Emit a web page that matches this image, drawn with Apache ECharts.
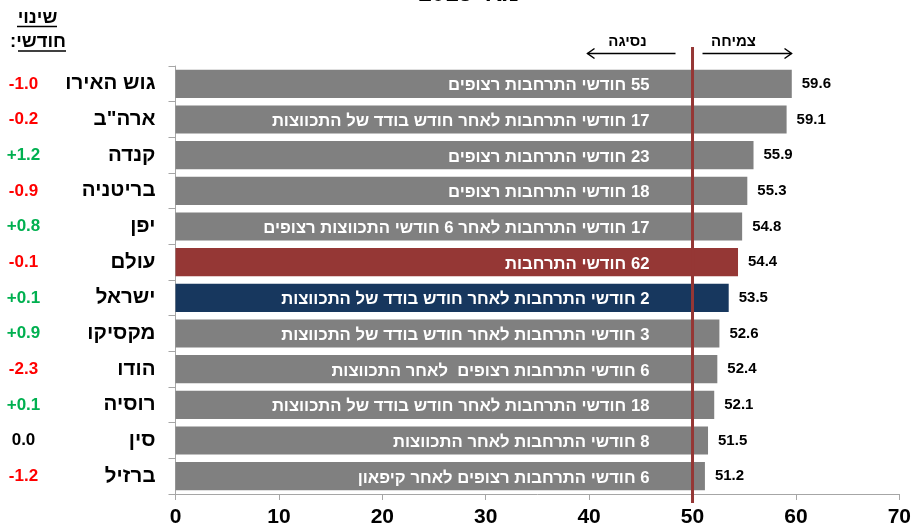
<!DOCTYPE html>
<html>
<head>
<meta charset="utf-8">
<script src="https://cdn.jsdelivr.net/npm/echarts@6/dist/echarts.min.js"></script>
<style>
html,body{margin:0;padding:0;background:#fff;}
#chart{width:914px;height:532px;}
</style>
</head>
<body>
<div id="chart"></div>
<script>
// ---- data ----
var categories = ['גוש האירו', 'ארה"ב', 'קנדה', 'בריטניה', 'יפן', 'עולם', 'ישראל', 'מקסיקו', 'הודו', 'רוסיה', 'סין', 'ברזיל'];
var values = [59.6, 59.1, 55.9, 55.3, 54.8, 54.4, 53.5, 52.6, 52.4, 52.1, 51.5, 51.2];
var monthlyChange = ['-1.0', '-0.2', '+1.2', '-0.9', '+0.8', '-0.1', '+0.1', '+0.9', '-2.3', '+0.1', '0.0', '-1.2'];
var barNotes = [
  '55 חודשי התרחבות רצופים',
  '17 חודשי התרחבות לאחר חודש בודד של התכווצות',
  '23 חודשי התרחבות רצופים',
  '18 חודשי התרחבות רצופים',
  '17 חודשי התרחבות לאחר 6 חודשי התכווצות רצופים',
  '62 חודשי התרחבות',
  '2 חודשי התרחבות לאחר חודש בודד של התכווצות',
  '3 חודשי התרחבות לאחר חודש בודד של התכווצות',
  '6 חודשי התרחבות רצופים  לאחר התכווצות',
  '18 חודשי התרחבות לאחר חודש בודד של התכווצות',
  '8 חודשי התרחבות לאחר התכווצות',
  '6 חודשי התרחבות רצופים לאחר קיפאון'
];
var xTicks = [0, 10, 20, 30, 40, 50, 60, 70];
var threshold = 50;
var headerLines = ['שינוי', 'חודשי:'];
var arrowTexts = ['נסיגה', 'צמיחה'];
var titleText = 'מאי 2018';

// ---- chart ----
var RLM = '\u200F';
var FONT = 'Arial, "Liberation Sans", sans-serif';
var chart = echarts.init(document.getElementById('chart'), null, {renderer: 'canvas'});

function barColor(i) {
  if (categories[i] === 'עולם') return '#953735';
  if (categories[i] === 'ישראל') return '#17375E';
  return '#808080';
}
function changeColor(v) {
  if (v.charAt(0) === '+') return '#00B050';
  if (v.charAt(0) === '-') return '#FF0000';
  return '#000000';
}

var option = {
  animation: false,
  grid: {left: 175.5, right: 12.5, top: 66, bottom: 38, containLabel: false},
  xAxis: {
    type: 'value', min: xTicks[0], max: xTicks[xTicks.length - 1], interval: 10,
    splitLine: {show: false},
    axisLine: {show: true, lineStyle: {color: '#A6A6A6', width: 1}},
    axisTick: {show: true, length: 6, lineStyle: {color: '#A6A6A6'}},
    axisLabel: {margin: 13, color: '#000', fontSize: 21, fontWeight: 'bold', fontFamily: FONT}
  },
  yAxis: [{
    type: 'category', data: categories, inverse: true,
    axisLine: {show: true, lineStyle: {color: '#A6A6A6'}},
    axisTick: {show: true, length: 7, lineStyle: {color: '#A6A6A6'}},
    axisLabel: {margin: 20, color: '#000', fontSize: 20.5, fontWeight: 'bold', fontFamily: FONT}
  }, {
    type: 'category', data: monthlyChange, inverse: true, position: 'left',
    axisLine: {show: false}, axisTick: {show: false},
    axisLabel: {margin: 152, align: 'center', fontSize: 17, fontWeight: 'bold', fontFamily: FONT,
      color: function (v) { return changeColor(v); }}
  }],
  series: [{
    type: 'bar', data: values, barWidth: '79%',
    itemStyle: {color: function (p) { return barColor(p.dataIndex); }},
    label: {show: true, position: 'right', distance: 10, color: '#000', fontSize: 15, fontWeight: 'bold', fontFamily: FONT,
      formatter: function (p) { return p.value.toFixed(1); }}
  }, {
    type: 'bar', data: values, barWidth: '79%', barGap: '-100%', silent: true,
    itemStyle: {color: 'rgba(0,0,0,0)'},
    label: {show: true, position: [474, '50%'], offset: [0, 2], align: 'right', verticalAlign: 'middle',
      color: '#fff', fontSize: 16.7, fontWeight: 'bold', fontFamily: FONT,
      formatter: function (p) { return RLM + barNotes[p.dataIndex]; }}
  }]
};
chart.setOption(option);

// annotations positioned through the axis scale
var x50 = chart.convertToPixel({xAxisIndex: 0}, threshold);
var red = '#953735';
var g = [];
g.push({type: 'line', shape: {x1: x50, y1: 47, x2: x50, y2: 503}, style: {stroke: red, lineWidth: 3}, z: 100});
// arrows
var ay = 53.5;
g.push({type: 'line', shape: {x1: x50 - 17, y1: ay, x2: x50 - 105, y2: ay}, style: {stroke: '#000', lineWidth: 1.5}});
g.push({type: 'polyline', shape: {points: [[x50 - 98, ay - 5], [x50 - 105, ay], [x50 - 98, ay + 5]]}, style: {stroke: '#000', lineWidth: 1.5, fill: null}});
g.push({type: 'line', shape: {x1: x50 + 10, y1: ay, x2: x50 + 99, y2: ay}, style: {stroke: '#000', lineWidth: 1.5}});
g.push({type: 'polyline', shape: {points: [[x50 + 92, ay - 5], [x50 + 99, ay], [x50 + 92, ay + 5]]}, style: {stroke: '#000', lineWidth: 1.5, fill: null}});
g.push({type: 'text', x: x50 - 65, y: 42, style: {text: arrowTexts[0], align: 'center', verticalAlign: 'middle', font: 'bold 15px ' + FONT, fill: '#000'}});
g.push({type: 'text', x: x50 + 41, y: 42, style: {text: arrowTexts[1], align: 'center', verticalAlign: 'middle', font: 'bold 15px ' + FONT, fill: '#000'}});
// header of the change column
g.push({type: 'text', x: 37.5, y: 18, style: {text: headerLines[0], align: 'center', verticalAlign: 'middle', font: 'bold 18.5px ' + FONT, fill: '#000'}});
g.push({type: 'line', shape: {x1: 17, y1: 26.5, x2: 57, y2: 26.5}, style: {stroke: '#000', lineWidth: 1.3}});
g.push({type: 'text', x: 38, y: 42, style: {text: RLM + headerLines[1] + RLM, align: 'center', verticalAlign: 'middle', font: 'bold 18.5px ' + FONT, fill: '#000'}});
g.push({type: 'line', shape: {x1: 18, y1: 51, x2: 66, y2: 51}, style: {stroke: '#000', lineWidth: 1.3}});
// cut-off title
g.push({type: 'text', x: 469, y: -6, style: {text: RLM + titleText, align: 'center', verticalAlign: 'middle', font: 'bold 24px ' + FONT, fill: '#000'}});
chart.setOption({graphic: {elements: g}});
</script>
</body>
</html>
